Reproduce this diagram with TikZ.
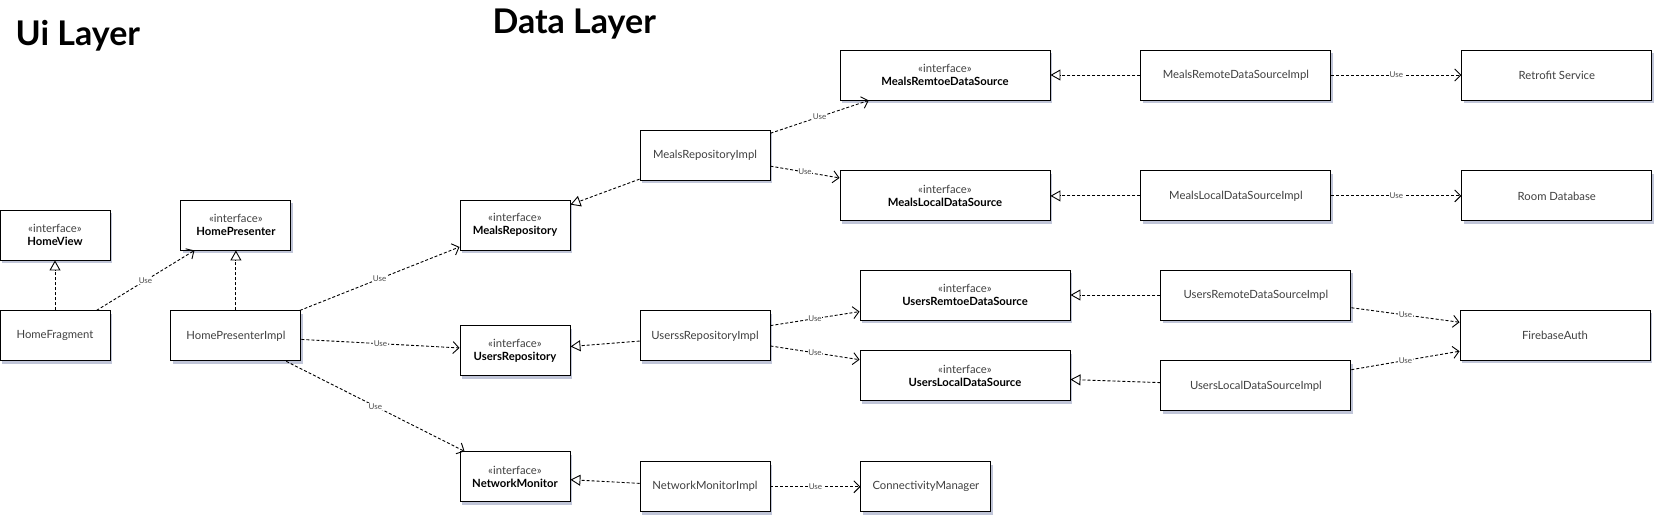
\documentclass[tikz,border=0pt]{standalone}
\usepackage{fontspec}
\setmainfont{Lato}
\usepackage{tikz}
\usetikzlibrary{arrows.meta,positioning,shadows}
\definecolor{shadowcol}{RGB}{165,172,200}
\newcommand{\ifacetext}[1]{{\color{black!75}«interface»}\\\textbf{#1}}

\begin{document}
\begin{tikzpicture}[
    x=1pt, y=-1pt,
    node distance=50pt,
    classbox/.style={rectangle, draw, line width=0.9pt, fill=white, minimum height=50pt,
        minimum width=130pt, align=center, inner sep=2pt, text=black!75,
        font=\fontsize{11.3}{13.5}\selectfont,
        drop shadow={shadow xshift=2pt, shadow yshift=-3pt, fill=shadowcol, opacity=0.7}},
    ifbox/.style={classbox, text=black},
    usearrow/.style={-{Straight Barb[length=6pt, width=12pt]}, line width=0.9pt, dash pattern=on 3pt off 2pt},
    realize/.style={-{Triangle[open, length=10pt, width=11pt]}, line width=0.9pt, dash pattern=on 3pt off 2pt},
    uselabel/.style={midway, fill=white, inner sep=0.8pt, text=black!70, font=\fontsize{8}{9}\selectfont},
    title/.style={anchor=base west, font=\fontsize{34}{38}\selectfont\bfseries}
]
    \useasboundingbox (0,0) rectangle (1663,522);

    % layer titles
    \node[title] (uititle) at (12,45) {Ui Layer};
    \node[title] (datatitle) at (489,34) {Data Layer};

    % ui layer
    \node[ifbox, minimum width=110pt] (homeview) at (55,235) {\ifacetext{HomeView}};
    \node[classbox, minimum width=110pt, below=50pt of homeview] (homefrag) {HomeFragment};
    \node[classbox, right=60pt of homefrag] (homepresimpl) {HomePresenterImpl};
    \node[ifbox, minimum width=110pt, above=60pt of homepresimpl] (homepres) {\ifacetext{HomePresenter}};

    % repositories
    \node[ifbox, minimum width=110pt] (mealsrepo) at (515,225) {\ifacetext{MealsRepository}};
    \node[ifbox, minimum width=110pt, below=75pt of mealsrepo] (usersrepo) {\ifacetext{UsersRepository}};
    \node[ifbox, minimum width=110pt, below=75pt of usersrepo] (netmon) {\ifacetext{NetworkMonitor}};
    \node[classbox] (mealsrepoimpl) at (705,155) {MealsRepositoryImpl};
    \node[classbox, below=130pt of mealsrepoimpl] (usersrepoimpl) {UserssRepositoryImpl};
    \node[classbox, below=100pt of usersrepoimpl] (netmonimpl) {NetworkMonitorImpl};
    \node[classbox, right=90pt of netmonimpl] (connmgr) {ConnectivityManager};

    % meals data sources
    \node[ifbox, minimum width=210pt] (mealsremote) at (945,75) {\ifacetext{MealsRemtoeDataSource}};
    \node[ifbox, minimum width=210pt, below=70pt of mealsremote] (mealslocal) {\ifacetext{MealsLocalDataSource}};
    \node[classbox, minimum width=190pt, right=90pt of mealsremote] (mealsremoteimpl) {MealsRemoteDataSourceImpl};
    \node[classbox, minimum width=190pt, right=90pt of mealslocal] (mealslocalimpl) {MealsLocalDataSourceImpl};
    \node[classbox, minimum width=190pt, right=130pt of mealsremoteimpl] (retrofit) {Retrofit Service};
    \node[classbox, minimum width=190pt, right=130pt of mealslocalimpl] (roomdb) {Room Database};

    % users data sources
    \node[ifbox, minimum width=210pt] (usersremote) at (965,295) {\ifacetext{UsersRemtoeDataSource}};
    \node[ifbox, minimum width=210pt, below=30pt of usersremote] (userslocal) {\ifacetext{UsersLocalDataSource}};
    \node[classbox, minimum width=190pt, right=90pt of usersremote] (usersremoteimpl) {UsersRemoteDataSourceImpl};
    \node[classbox, minimum width=190pt, below=40pt of usersremoteimpl] (userslocalimpl) {UsersLocalDataSourceImpl};
    \node[classbox, minimum width=190pt] (firebase) at (1555,335) {FirebaseAuth};

    % realizations
    \draw[realize] (homefrag) -- (homeview);
    \draw[realize] (homepresimpl) -- (homepres);
    \draw[realize] (mealsrepoimpl) -- (mealsrepo);
    \draw[realize] (usersrepoimpl) -- (usersrepo);
    \draw[realize] (netmonimpl) -- (netmon);
    \draw[realize] (mealsremoteimpl) -- (mealsremote);
    \draw[realize] (mealslocalimpl) -- (mealslocal);
    \draw[realize] (usersremoteimpl) -- (usersremote);
    \draw[realize] (userslocalimpl) -- (userslocal);

    % dependencies
    \draw[usearrow] (homefrag) -- (homepres) node[uselabel] {Use};
    \draw[usearrow] (homepresimpl) -- (mealsrepo) node[uselabel] {Use};
    \draw[usearrow] (homepresimpl) -- (usersrepo) node[uselabel] {Use};
    \draw[usearrow] (homepresimpl) -- (netmon) node[uselabel] {Use};
    \draw[usearrow] (mealsrepoimpl) -- (mealsremote) node[uselabel] {Use};
    \draw[usearrow] (mealsrepoimpl) -- (mealslocal) node[uselabel] {Use};
    \draw[usearrow] (usersrepoimpl) -- (usersremote) node[uselabel] {Use};
    \draw[usearrow] (usersrepoimpl) -- (userslocal) node[uselabel] {Use};
    \draw[usearrow] (netmonimpl) -- (connmgr) node[uselabel] {Use};
    \draw[usearrow] (mealsremoteimpl) -- (retrofit) node[uselabel] {Use};
    \draw[usearrow] (mealslocalimpl) -- (roomdb) node[uselabel] {Use};
    \draw[usearrow] (usersremoteimpl) -- (firebase) node[uselabel] {Use};
    \draw[usearrow] (userslocalimpl) -- (firebase) node[uselabel] {Use};
\end{tikzpicture}
\end{document}
